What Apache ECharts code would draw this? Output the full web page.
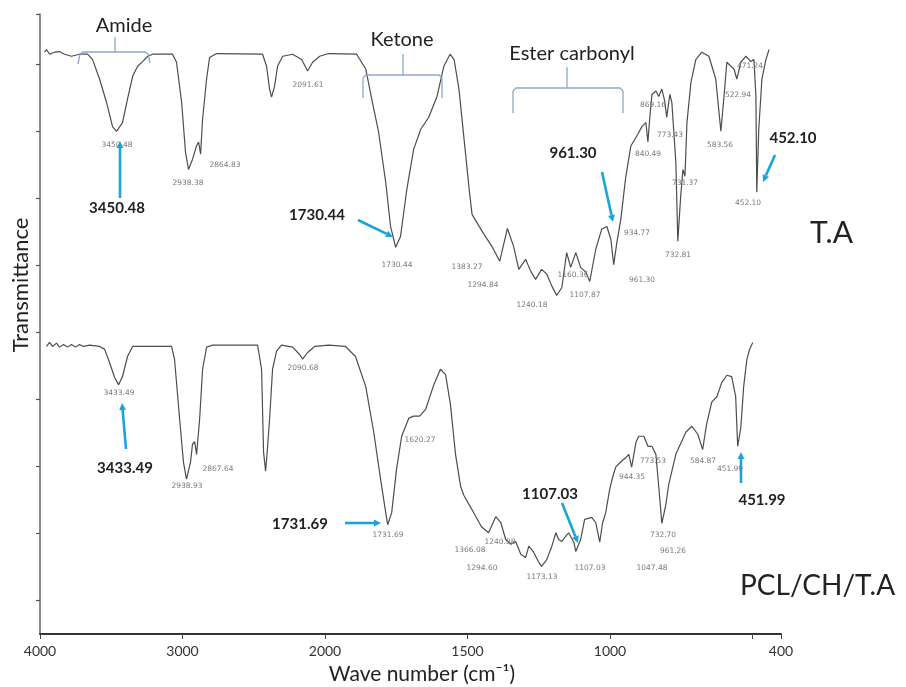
<!DOCTYPE html>
<html><head><meta charset="utf-8">
<script src="https://cdn.jsdelivr.net/npm/echarts@6/dist/echarts.min.js"></script>
<style>html,body{margin:0;padding:0;background:#fff}#c{width:906px;height:687px}</style>
</head><body><div id="c"></div>
<script>
// ---- data (wavenumber in cm-1, transmittance in arbitrary offset units) ----
const taWave = [3968,3954,3933,3898,3863,3828,3779,3723,3666,3631,3582,3533,3491,3463,3421,3386,3350,3315,3280,3244,3210,3070,3042,3006,2979,2958,2930,2902,2887,2873,2859,2831,2810,2761,2438,2410,2389,2375,2354,2333,2297,2227,2164,2122,2087,2037,1987,1889,1857,1836,1812,1787,1770,1752,1735,1713,1689,1664,1636,1607,1583,1561,1547,1530,1512,1494,1484,1449,1414,1387,1360,1338,1320,1296,1278,1261,1240,1222,1204,1187,1169,1152,1138,1120,1103,1085,1071,1050,1029,1011,997,987,976,962,945,927,906,888,874,867,860,853,839,829,818,808,801,790,783,769,762,752,744,737,730,716,699,678,653,629,611,600,590,576,565,555,541,523,506,495,488,485,478,467,453,442];
const taTrans = [81.8,82.2,81.5,81.8,81.9,81.5,81.2,81.5,81.5,80.7,77.8,74.3,70.7,70.0,71.3,74.8,78.2,79.7,80.4,81.2,81.5,81.5,80.3,74.3,66.9,64.3,65.8,67.8,68.4,66.6,71.8,77.8,81.0,81.6,81.5,79.7,76.3,75.1,76.7,79.7,81.2,81.5,80.7,79.0,80.3,81.2,81.6,81.5,79.3,74.8,69.9,62.4,55.8,52.7,54.3,61.3,67.3,70.3,72.1,75.2,79.7,81.5,80.7,76.3,68.8,61.3,57.6,55.1,52.8,50.6,55.5,52.8,49.4,50.9,49.1,47.9,49.4,48.7,46.9,45.5,46.7,51.9,49.7,51.9,49.7,49.0,47.6,52.4,55.4,55.8,53.9,50.1,53.4,56.9,63.1,67.8,69.3,70.7,71.3,68.4,72.2,75.5,76.0,75.2,76.3,74.5,72.1,75.5,74.3,65.4,53.6,60.3,64.3,63.3,71.3,77.3,80.7,81.8,81.2,77.8,70.0,75.2,80.3,79.7,79.3,77.8,80.3,81.2,80.4,80.7,75.2,60.9,70.3,77.8,80.7,82.2];

const pcWave = [3954,3933,3912,3884,3863,3835,3807,3779,3751,3723,3695,3652,3582,3547,3512,3477,3449,3421,3386,3350,3077,3056,3020,2993,2972,2944,2930,2915,2901,2880,2859,2831,2789,2473,2445,2431,2417,2410,2389,2368,2340,2305,2227,2178,2157,2122,2073,1987,1928,1893,1857,1829,1805,1787,1780,1766,1749,1731,1706,1689,1668,1647,1619,1595,1577,1560,1542,1524,1513,1485,1451,1426,1401,1383,1366,1348,1331,1313,1296,1285,1268,1250,1240,1222,1204,1190,1180,1169,1155,1145,1127,1120,1103,1089,1064,1050,1036,1026,1015,1001,990,980,962,945,934,924,909,899,881,867,853,839,829,818,804,794,769,734,713,692,675,661,643,625,608,590,573,559,552,541,531,520,510,499];
const pcTrans = [37.9,38.5,37.9,38.4,37.8,38.2,37.8,38.2,37.8,38.2,37.9,38.1,37.9,37.5,35.5,33.3,32.2,33.4,36.4,37.9,37.9,36.0,27.0,20.6,18.1,20.6,23.3,23.7,21.8,27.0,34.5,37.8,38.1,38.1,34.5,22.1,19.3,21.0,27.0,34.5,37.2,38.1,37.8,36.7,36.0,37.0,37.9,38.1,37.9,36.4,31.9,25.1,18.1,13.1,11.3,13.1,19.6,24.5,27.2,27.5,27.5,28.5,32.1,34.5,33.7,29.3,21.8,17.0,15.7,13.6,11.0,10.1,12.5,11.6,9.1,8.4,8.8,6.9,6.4,8.1,7.2,5.7,5.1,6.1,8.1,10.1,9.1,8.8,9.6,10.1,8.7,7.3,9.1,12.1,12.4,11.6,8.7,11.6,13.1,16.6,18.5,19.9,20.7,21.3,21.8,19.9,23.6,24.5,24.5,23.0,23.0,21.8,17.0,11.5,14.3,17.3,21.8,25.1,26.0,24.8,22.5,26.3,29.6,30.4,32.5,33.6,33.4,30.4,23.0,25.8,31.9,35.9,37.5,38.5];

const xTickWaves = [4000,3000,2000,1500,1000,500,400];
const xLabelWaves = [4000,3000,2000,1500,1000,400];
const yTickValues = [0,10,20,30,40,50,60,70,80,87.5];

// piecewise wavenumber axis (expanded below 2000 cm-1)
const toU = w => w >= 2000 ? (4000 - w) / 2 : 1000 + (2000 - w);
const fromU = u => u <= 1000 ? 4000 - 2 * u : 2000 - (u - 1000);

const FONT = 'Lato, "Open Sans", sans-serif';
const ARROW = '#1ba4da';
const BRACKET = '#8ea8c9';

function txt(x, y, text, size, opts) {
  opts = opts || {};
  return {
    type: 'text', x: x, y: y, rotation: opts.rot || 0, silent: true, z: 10,
    style: {
      text: text, fill: opts.color || '#222',
      font: (opts.weight || 'normal') + ' ' + size + 'px ' + (opts.family || FONT),
      align: opts.align || 'center', verticalAlign: 'middle',
      textAlign: opts.align || 'center', textVerticalAlign: 'middle'
    }
  };
}
function small(x, y, text) {
  return txt(x, y, text, 7.5, {color: '#7a7a7a', family: '"DejaVu Sans", sans-serif'});
}
function arrow(x1, y1, x2, y2) {
  const a = Math.atan2(y2 - y1, x2 - x1), L = 7, W = 3.5;
  const bx = x2 - L * Math.cos(a), by = y2 - L * Math.sin(a);
  const px = -Math.sin(a) * W, py = Math.cos(a) * W;
  return [
    {type: 'line', silent: true, z: 10, shape: {x1: x1, y1: y1, x2: bx, y2: by}, style: {stroke: ARROW, lineWidth: 2.6}},
    {type: 'polygon', silent: true, z: 10, shape: {points: [[x2, y2], [bx + px, by + py], [bx - px, by - py]]}, style: {fill: ARROW}}
  ];
}
function poly(points) {
  return {type: 'polyline', silent: true, z: 9, shape: {points: points}, style: {stroke: BRACKET, lineWidth: 1.3, fill: null}};
}
function seg(x1, y1, x2, y2) {
  return {type: 'line', silent: true, z: 9, shape: {x1: x1, y1: y1, x2: x2, y2: y2}, style: {stroke: BRACKET, lineWidth: 1.3}};
}

const graphics = [].concat(
  // axis titles
  [txt(21, 285, 'Transmittance', 22, {rot: Math.PI / 2, color: '#222'}),
   txt(422, 674, 'Wave number (cm\u207B\u00B9)', 21, {color: '#222'})],
  // group brackets
  [poly([[78, 64], [80, 54], [83, 52], [145, 52], [148, 54], [150, 63]]), seg(115, 52, 115, 37),
   txt(124, 26, 'Amide', 20),
   poly([[363, 98], [363, 78], [366, 75], [439, 75], [442, 78], [442, 98]]), seg(403, 75, 403, 54),
   txt(402, 40, 'Ketone', 20),
   poly([[513, 113], [513, 91], [516, 88], [620, 88], [623, 91], [623, 113]]), seg(567, 88, 567, 67),
   txt(572, 54, 'Ester carbonyl', 20)],
  // sample names
  [txt(810, 233, 'T.A', 30, {align: 'left'}), txt(740, 586, 'PCL/CH/T.A', 28, {align: 'left'})],
  // highlighted peaks with arrows
  [txt(117, 208, '3450.48', 15, {weight: 'bold'}), txt(317, 215, '1730.44', 15, {weight: 'bold'}),
   txt(573, 153, '961.30', 15, {weight: 'bold'}), txt(793, 138, '452.10', 15, {weight: 'bold'}),
   txt(125, 468, '3433.49', 15, {weight: 'bold'}), txt(300, 524, '1731.69', 15, {weight: 'bold'}),
   txt(550, 494, '1107.03', 15, {weight: 'bold'}), txt(762, 500, '451.99', 15, {weight: 'bold'})],
  arrow(120, 198, 120, 141), arrow(358, 220, 393, 237), arrow(602, 172, 613, 222), arrow(775, 155, 763, 182),
  arrow(126, 449, 122, 403), arrow(345, 523, 381, 523), arrow(562, 503, 578, 543), arrow(741, 483, 741, 452),
  // small peak labels (top spectrum)
  [small(117, 145, '3450.48'), small(188, 183, '2938.38'), small(225, 165, '2864.83'), small(308, 85, '2091.61'),
   small(397, 265, '1730.44'), small(467, 267, '1383.27'), small(483, 285, '1294.84'), small(532, 305, '1240.18'),
   small(573, 275, '1160.36'), small(585, 295, '1107.87'), small(642, 280, '961.30'), small(637, 233, '934.77'),
   small(648, 154, '840.49'), small(670, 135, '773.43'), small(653, 105, '869.16'), small(685, 183, '731.37'),
   small(678, 255, '732.81'), small(720, 145, '583.56'), small(738, 95, '522.94'), small(748, 203, '452.10'),
   small(750, 66, '471.24')],
  // small peak labels (bottom spectrum)
  [small(119, 393, '3433.49'), small(187, 486, '2938.93'), small(218, 469, '2867.64'), small(303, 368, '2090.68'),
   small(420, 440, '1620.27'), small(388, 535, '1731.69'), small(470, 550, '1366.08'), small(500, 542, '1240.88'),
   small(482, 568, '1294.60'), small(542, 577, '1173.13'), small(590, 568, '1107.03'), small(652, 568, '1047.48'),
   small(663, 535, '732.70'), small(673, 551, '961.26'), small(632, 477, '944.35'), small(653, 461, '773.53'),
   small(703, 461, '584.87'), small(730, 469, '451.99')]
);

const chart = echarts.init(document.getElementById('c'), null, {renderer: 'canvas'});
chart.setOption({
  animation: false,
  backgroundColor: '#fff',
  grid: {left: 40, right: 125, top: 14, bottom: 53, containLabel: false},
  xAxis: {
    type: 'value', min: 0, max: 2600,
    axisLine: {show: true, onZero: false, lineStyle: {color: '#333', width: 2}},
    axisTick: {show: true, customValues: xTickWaves.map(toU), length: 5, lineStyle: {color: '#444', width: 1}},
    axisLabel: {show: true, customValues: xLabelWaves.map(toU), formatter: v => String(Math.round(fromU(v))),
      color: '#333', fontSize: 14, fontFamily: FONT, margin: 10},
    splitLine: {show: false}
  },
  yAxis: {
    type: 'value', min: -5, max: 87.5,
    axisLine: {show: true, onZero: false, lineStyle: {color: '#666', width: 1.5}},
    axisTick: {show: true, customValues: yTickValues, length: 4, lineStyle: {color: '#555', width: 1.2}},
    axisLabel: {show: false},
    splitLine: {show: false}
  },
  series: [
    {name: 'T.A', type: 'line', showSymbol: false, symbol: 'none',
     data: taWave.map((w, i) => [toU(w), taTrans[i]]),
     lineStyle: {color: '#4d4d4d', width: 1.2}},
    {name: 'PCL/CH/T.A', type: 'line', showSymbol: false, symbol: 'none',
     data: pcWave.map((w, i) => [toU(w), pcTrans[i]]),
     lineStyle: {color: '#4d4d4d', width: 1.2}}
  ],
  graphic: graphics
});
</script>
</body></html>
